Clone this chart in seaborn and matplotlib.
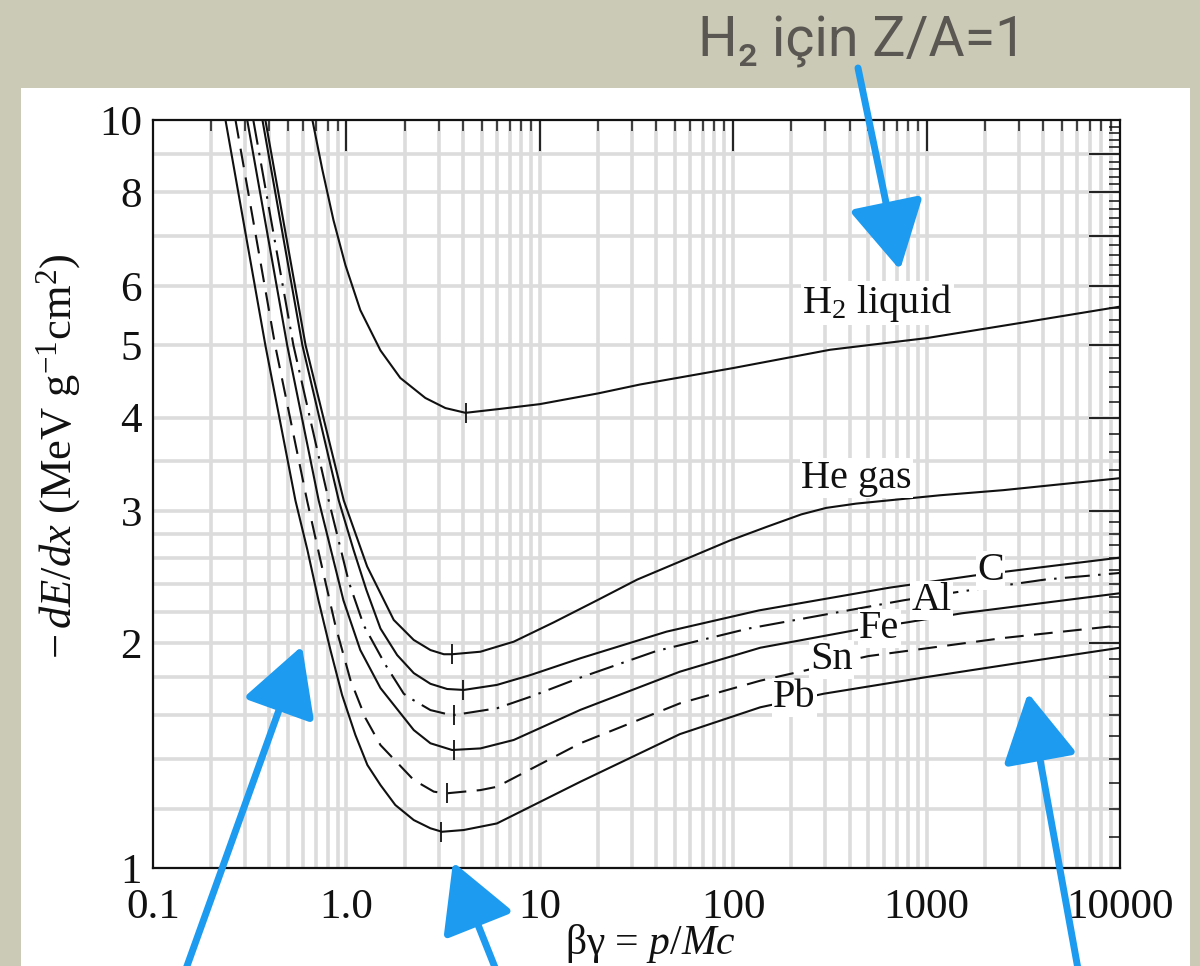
import numpy as np
import pandas as pd
import matplotlib
matplotlib.use('Agg')
import matplotlib.pyplot as plt
import seaborn as sns
from matplotlib.patches import Rectangle, FancyArrowPatch, ArrowStyle
from matplotlib.ticker import FixedLocator, FixedFormatter, NullFormatter

# ---------------- data ----------------
h2_x = [0.667, 0.751, 0.857, 0.988, 1.18, 1.50, 1.90, 2.56, 3.25, 4.13, 6.26, 10.0, 20.0, 33, 100, 317, 1000, 3000, 10000]
h2_y = [10.0, 8.58, 7.35, 6.40, 5.57, 4.92, 4.52, 4.25, 4.12, 4.06, 4.11, 4.17, 4.31, 4.43, 4.66, 4.93, 5.11, 5.35, 5.63]

he_x = [0.381, 0.615, 0.969, 1.28, 1.757, 2.228, 2.72, 3.19, 3.52, 4.93, 7.33, 11.8, 19.8, 31.9, 96, 150, 225, 303, 432, 1175, 2495, 10000]
he_y = [10.0, 5.0, 3.10, 2.53, 2.146, 2.018, 1.956, 1.931, 1.931, 1.946, 2.007, 2.13, 2.28, 2.43, 2.74, 2.86, 2.97, 3.03, 3.07, 3.15, 3.20, 3.32]

c_x = [0.368, 0.592, 0.913, 1.09, 1.269, 1.50, 1.83, 2.23, 2.72, 3.32, 4.04, 6.0, 8.94, 16.2, 45.2, 136, 642, 1750, 10000]
c_y = [10.0, 5.0, 3.10, 2.66, 2.353, 2.09, 1.926, 1.822, 1.763, 1.735, 1.730, 1.757, 1.811, 1.907, 2.07, 2.21, 2.37, 2.46, 2.60]

al_x = [0.330, 0.532, 0.81, 1.03, 1.23, 1.59, 1.98, 2.14, 2.72, 3.52, 6.0, 8.94, 16.2, 40, 120, 762, 1466, 4100, 10000]
al_y = [10.0, 5.0, 3.10, 2.41, 2.11, 1.87, 1.71, 1.686, 1.626, 1.60, 1.635, 1.694, 1.797, 1.95, 2.09, 2.28, 2.34, 2.43, 2.48]

fe_x = [0.307, 0.494, 0.719, 0.965, 1.18, 1.5, 2.23, 2.72, 3.52, 4.93, 7.33, 16.2, 53, 138, 430, 793, 1513, 10000]
fe_y = [10.0, 5.0, 3.10, 2.28, 1.956, 1.74, 1.529, 1.468, 1.438, 1.445, 1.483, 1.627, 1.83, 1.97, 2.08, 2.13, 2.19, 2.33]

sn_x = [0.267, 0.428, 0.626, 0.734, 0.877, 1.049, 1.254, 1.5, 2.23, 2.83, 3.25, 4.93, 6.0, 16.2, 53, 138, 500, 2495, 10000]
sn_y = [10.0, 5.0, 3.10, 2.58, 2.11, 1.784, 1.587, 1.46, 1.311, 1.265, 1.258, 1.271, 1.284, 1.468, 1.66, 1.78, 1.92, 2.03, 2.11]

pb_x = [0.237, 0.381, 0.545, 0.629, 0.717, 0.827, 0.950, 1.113, 1.284, 1.5, 1.79, 2.23, 2.72, 3.12, 4.04, 6.0, 16.2, 53, 138, 294, 1000, 3000, 10000]
pb_y = [10.0, 5.0, 3.10, 2.66, 2.28, 1.956, 1.703, 1.506, 1.373, 1.291, 1.214, 1.159, 1.130, 1.118, 1.124, 1.147, 1.304, 1.51, 1.64, 1.71, 1.80, 1.88, 1.97]

materials = ['H2 liquid', 'He gas', 'C', 'Al', 'Fe', 'Sn', 'Pb']
label_texts = ['H$_2$ liquid', 'He gas', 'C', 'Al', 'Fe', 'Sn', 'Pb']
label_x = [557, 433, 2138, 1059, 570, 322, 207]
label_y = [5.69, 3.32, 2.50, 2.28, 2.09, 1.90, 1.69]

min_x = [4.13, 3.5, 4.0, 3.6, 3.6, 3.3, 3.1]
min_y = [4.06, 1.931, 1.730, 1.60, 1.438, 1.258, 1.118]

x_ticks = [0.1, 1, 10, 100, 1000, 10000]
x_tick_labels = ['0.1', '1.0', '10', '100', '1000', '10000']
y_ticks = [1, 2, 3, 4, 5, 6, 7, 8, 9, 10]
y_tick_labels = ['1', '2', '3', '4', '5', '6', '', '8', '', '10']

# ---------------- build table ----------------
series = [(h2_x, h2_y), (he_x, he_y), (c_x, c_y), (al_x, al_y),
          (fe_x, fe_y), (sn_x, sn_y), (pb_x, pb_y)]
frames = []
for m, (xs, ys) in zip(materials, series):
    frames.append(pd.DataFrame({'bg': xs, 'dedx': ys, 'material': m}))
df = pd.concat(frames, ignore_index=True)

# ---------------- style ----------------
sns.set_theme(style='white')
plt.rcParams['font.family'] = ['Liberation Serif', 'DejaVu Serif']
plt.rcParams['mathtext.fontset'] = 'custom'
plt.rcParams['mathtext.rm'] = 'Liberation Serif'
plt.rcParams['mathtext.it'] = 'Liberation Serif:italic'
plt.rcParams['mathtext.bf'] = 'Liberation Serif:bold'

W, H = 1200, 966
fig = plt.figure(figsize=(W / 100, H / 100), dpi=100, facecolor='#CACAB6')
fig.patches.append(Rectangle((21 / W, 0), (1190 - 21) / W, (H - 88) / H,
                             transform=fig.transFigure, facecolor='white',
                             edgecolor='none', zorder=-5))

ax = fig.add_axes([153 / W, 1 - 868 / H, (1120 - 153) / W, (868 - 120) / H])
ax.set_facecolor('white')
ax.set_xscale('log')
ax.set_yscale('log')
ax.set_xlim(0.1, 10000)
ax.set_ylim(1, 10)

# grid
grid_c = '#DCDCDC'
for e in range(-1, 4):
    for k in range(1, 10):
        v = k * 10 ** e
        if 0.1 < v < 10000:
            ax.axvline(v, color=grid_c, lw=2.6, zorder=0)
for v in [1.2, 1.4, 1.6, 1.8, 2.0, 2.2, 2.4, 2.6, 2.8, 3.0, 3.5, 4, 5, 6, 7, 8, 9]:
    ax.axhline(v, color=grid_c, lw=2.6, zorder=0)

palette = {m: '#111111' for m in materials}
dashes = {'H2 liquid': '', 'He gas': '', 'C': '', 'Al': (12, 4, 1.2, 4),
          'Fe': '', 'Sn': (9, 5), 'Pb': ''}
sns.lineplot(data=df, x='bg', y='dedx', hue='material', style='material',
             palette=palette, dashes=dashes, estimator=None, legend=False,
             ax=ax, lw=1.5, zorder=3)

ax.plot(min_x, min_y, linestyle='none', marker='|', markersize=15,
        mew=1.3, color='#111111', zorder=4)

for t, lx, ly in zip(label_texts, label_x, label_y):
    ax.text(lx, ly, t, ha='center', va='center', fontsize=29, color='#111111',
            zorder=5, bbox=dict(facecolor='white', edgecolor='none', pad=1.0))

# ticks
ax.xaxis.set_major_locator(FixedLocator(x_ticks))
ax.xaxis.set_major_formatter(FixedFormatter(x_tick_labels))
minor_x = [k * 10 ** e for e in range(-1, 4) for k in range(2, 10)]
ax.xaxis.set_minor_locator(FixedLocator(minor_x))
ax.xaxis.set_minor_formatter(NullFormatter())
ax.yaxis.set_major_locator(FixedLocator(y_ticks))
ax.yaxis.set_major_formatter(FixedFormatter(y_tick_labels))
minor_y = [round(v, 2) for v in np.arange(1.1, 3.0, 0.1) if abs(v - round(v)) > 1e-6] + \
          [round(v, 2) for v in np.arange(3.2, 10.0, 0.2) if abs(v - round(v)) > 1e-6]
ax.yaxis.set_minor_locator(FixedLocator(minor_y))
ax.yaxis.set_minor_formatter(NullFormatter())
ax.tick_params(which='major', direction='in', length=22, width=1.3,
               top=True, right=True, labelsize=31, colors='#111111')
ax.tick_params(axis='x', which='major', pad=15)
ax.tick_params(axis='y', which='major', pad=8)
ax.tick_params(which='minor', direction='in', length=8, width=1.1,
               top=True, right=True, colors='#111111')
for s in ax.spines.values():
    s.set_linewidth(1.6)
    s.set_color('#111111')
    s.set_zorder(6)

ax.set_xlabel('βγ = $p/Mc$', fontsize=30, color='#111111')
ax.xaxis.set_label_coords(0.514, -0.072)
ax.set_ylabel(r'$-\,dE/dx$ (MeV g$^{-1}$cm$^2$)', fontsize=32, color='#111111')
ax.yaxis.set_label_coords(-0.072, 0.55)

# title
fig.text(862 / W, 1 - 42 / H, 'H₂ için Z/A=1', ha='center', va='center',
         fontsize=40, color='#5A5652', family=['Roboto', 'DejaVu Sans'])

# hand drawn blue arrows (annotation)
blue = '#1C9BF0'
arrows = [((858, 68), (900, 270)), ((182, 980), (302, 646)),
          ((500, 980), (453, 862)), ((1080, 980), (1028, 693))]
for (x0, y0), (x1, y1) in arrows:
    arr = FancyArrowPatch((x0 / W, 1 - y0 / H), (x1 / W, 1 - y1 / H),
                          transform=fig.transFigure,
                          arrowstyle=ArrowStyle('-|>', head_length=1.0, head_width=0.55),
                          mutation_scale=42, lw=5, color=blue, zorder=20,
                          shrinkA=0, shrinkB=0)
    fig.add_artist(arr)

fig.savefig('out.png', dpi=100, facecolor=fig.get_facecolor())
